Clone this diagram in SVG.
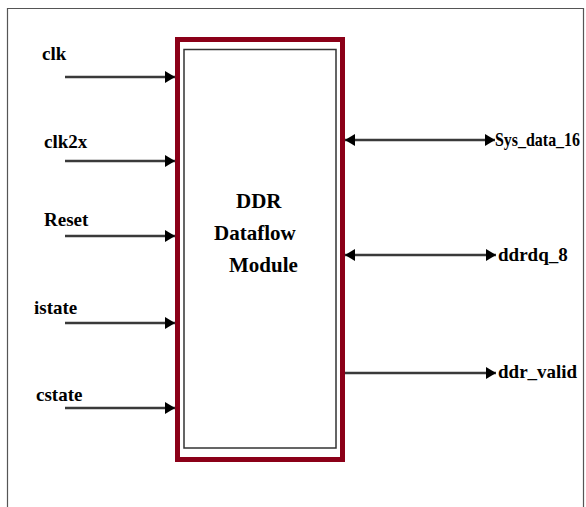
<svg xmlns="http://www.w3.org/2000/svg" width="586" height="507" viewBox="0 0 586 507">
<style>
.lbl{font-family:"Liberation Serif","Times New Roman",serif;font-weight:bold;font-size:19px;fill:#000}
.title{font-family:"Liberation Serif","Times New Roman",serif;font-weight:bold;font-size:21px;fill:#000}
.wire{stroke:#3a3a3a;stroke-width:2.5;fill:none}
</style>
<defs>
<marker id="ah" viewBox="0 0 10 12" refX="10" refY="6" markerWidth="10" markerHeight="12" markerUnits="userSpaceOnUse" orient="auto-start-reverse">
<path d="M0,0 L10,6 L0,12 Z" fill="#000"/>
</marker>
</defs>
<rect width="586" height="507" fill="#fff"/>
<path d="M7.5,507 V8.5 H583.5 V507" fill="none" stroke="#555" stroke-width="1.2"/>
<g id="module">
<rect x="177.5" y="39.5" width="165" height="420" fill="#fff" stroke="#8b0018" stroke-width="5"/>
<rect x="184" y="49.5" width="152" height="398.5" fill="#fff" stroke="#333" stroke-width="1.5"/>
<text class="title" x="236" y="208">DDR</text>
<text class="title" x="214" y="240">Dataflow</text>
<text class="title" x="229" y="272">Module</text>
</g>
<g id="connectors">
<line class="wire" x1="65" y1="77" x2="175" y2="77" marker-end="url(#ah)"/>
<line class="wire" x1="65" y1="161" x2="175" y2="161" marker-end="url(#ah)"/>
<line class="wire" x1="65" y1="236" x2="175" y2="236" marker-end="url(#ah)"/>
<line class="wire" x1="65" y1="323" x2="175" y2="323" marker-end="url(#ah)"/>
<line class="wire" x1="65" y1="408" x2="175" y2="408" marker-end="url(#ah)"/>
<line class="wire" x1="345" y1="140" x2="495" y2="140" marker-start="url(#ah)" marker-end="url(#ah)"/>
<line class="wire" x1="345" y1="255" x2="496" y2="255" marker-start="url(#ah)" marker-end="url(#ah)"/>
<line class="wire" x1="345" y1="373" x2="496" y2="373" marker-end="url(#ah)"/>
</g>
<g id="in-clk"><text class="lbl" x="42" y="60">clk</text></g>
<g id="in-clk2x"><text class="lbl" x="44" y="148">clk2x</text></g>
<g id="in-reset"><text class="lbl" x="44" y="226">Reset</text></g>
<g id="in-istate"><text class="lbl" x="34" y="314">istate</text></g>
<g id="in-cstate"><text class="lbl" x="36" y="401">cstate</text></g>
<g id="out-sys"><text class="lbl" x="495" y="146" textLength="85" lengthAdjust="spacingAndGlyphs">Sys_data_16</text></g>
<g id="out-ddrdq"><text class="lbl" x="498" y="261">ddrdq_8</text></g>
<g id="out-valid"><text class="lbl" x="498" y="378">ddr_valid</text></g>
</svg>
